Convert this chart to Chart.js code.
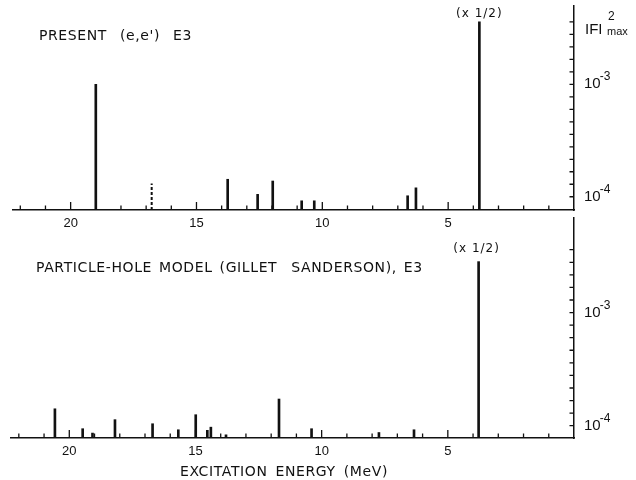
<!DOCTYPE html>
<html><head><meta charset="utf-8">
<script src="https://cdn.jsdelivr.net/npm/chart.js@4.4.0/dist/chart.umd.min.js"></script>
<style>
html,body{margin:0;padding:0;background:#fff;}
#wrap{position:relative;width:636px;height:480px;overflow:hidden;background:#fff;}
canvas{position:absolute;left:0;}
.t{position:absolute;font-family:"DejaVu Sans";font-size:14px;line-height:14px;color:#111;white-space:pre;letter-spacing:0.6px;z-index:3;}
</style></head><body>
<div id="wrap">
<canvas id="c1" width="636" height="232" style="top:0px"></canvas>
<canvas id="c2" width="636" height="266" style="top:214px"></canvas>
<div class="t" style="left:39px;top:28px;word-spacing:8px">PRESENT (e,e') E3</div>
<div class="t" style="left:36px;top:260px;word-spacing:2px">PARTICLE-HOLE MODEL (GILLET  SANDERSON), E3</div>
<div class="t" style="left:180px;top:464px;word-spacing:3px">EXCITATION ENERGY (MeV)</div>
</div>
<script>
// ---- data ----
const presentEnergy = [19.0, 13.76, 12.57, 11.97, 10.82, 10.32, 6.61, 6.28, 3.76];
const presentValue  = [1.0e-3, 1.43e-4, 1.05e-4, 1.38e-4, 9.2e-5, 9.2e-5, 1.02e-4, 1.2e-4, 3.6e-3];
const presentDashedEnergy = [16.78];
const presentDashedValue  = [1.31e-4];
const modelEnergy = [20.57, 19.47, 19.08, 18.19, 16.70, 15.68, 14.99, 14.53, 14.39, 13.79, 11.69, 10.40, 7.73, 6.34, 3.78];
const modelValue  = [1.41e-4, 9.4e-5, 8.6e-5, 1.13e-4, 1.04e-4, 9.2e-5, 1.25e-4, 9.1e-5, 9.7e-5, 8.3e-5, 1.72e-4, 9.4e-5, 8.7e-5, 9.2e-5, 2.82e-3];
const halfNote = '(x 1/2)';
const xMajorTicks = [20, 15, 10, 5];
const xMinorTicks = [1,2,3,4,5,6,7,8,9,10,11,12,13,14,15,16,17,18,19,20,21,22];
const yLabelTicks = [1e-4, 1e-3];
const yTickBase = ['10', '10'];
const yTickExponents = ['-4', '-3'];
const yMinorTicks = [1e-4, 1.292e-4, 1.668e-4, 2.154e-4, 2.783e-4, 3.594e-4, 4.642e-4, 5.995e-4, 7.743e-4,
                     1e-3, 1.292e-3, 1.668e-3, 2.154e-3, 2.783e-3, 3.594e-3];

const INK = '#111';

function makeChart(id, cfg) {
  const bars = cfg.energy.map((e, i) => ({x: e, y: cfg.value[i]}));
  const datasets = [{
    type: 'bar', data: bars, backgroundColor: INK, borderWidth: 0,
    barThickness: 2, grouped: false
  }];
  (cfg.dashedEnergy || []).forEach((e, i) => {
    datasets.push({
      type: 'line', data: [{x: e, y: cfg.yMin}, {x: e, y: cfg.dashedValue[i]}],
      borderColor: INK, borderWidth: 2, borderDash: [3, 2], pointRadius: 0, fill: false
    });
  });
  const bigIndex = cfg.value.indexOf(Math.max(...cfg.value));
  const plugin = {
    id: 'inwardTicks',
    afterDraw(chart) {
      const ctx = chart.ctx, xs = chart.scales.x, ys = chart.scales.y, a = chart.chartArea;
      ctx.save();
      ctx.strokeStyle = INK; ctx.lineWidth = 1.3;
      ctx.beginPath();
      xMinorTicks.forEach(v => {
        const x = xs.getPixelForValue(v);
        const len = xMajorTicks.includes(v) ? 8 : 4.5;
        ctx.moveTo(x, a.bottom); ctx.lineTo(x, a.bottom - len);
      });
      yMinorTicks.forEach(v => {
        const y = ys.getPixelForValue(v);
        ctx.moveTo(a.right, y); ctx.lineTo(a.right - 4.5, y);
      });
      ctx.stroke();
      ctx.fillStyle = INK;
      // exponents of the y tick labels
      ctx.font = '12px "Liberation Sans"';
      ctx.textAlign = 'left'; ctx.textBaseline = 'alphabetic';
      const baseW = (() => { ctx.save(); ctx.font = '15px "Liberation Sans"'; const w = ctx.measureText(yTickBase[0]).width; ctx.restore(); return w; })();
      yLabelTicks.forEach((v, i) => {
        const y = ys.getPixelForValue(v);
        ctx.fillText(yTickExponents[i], a.right + 10 + baseW - 1, y - 4);
      });
      // (x 1/2) note above the strongest line
      const bx = xs.getPixelForValue(cfg.energy[bigIndex]);
      const by = ys.getPixelForValue(cfg.value[bigIndex]);
      ctx.font = '12px "DejaVu Sans"';
      try { ctx.letterSpacing = '1px'; } catch (e) {}
      ctx.textAlign = 'center'; ctx.textBaseline = 'middle';
      ctx.fillText(halfNote, bx + cfg.noteDx, by - cfg.noteDy);
      if (cfg.fmax) {
        try { ctx.letterSpacing = '0px'; } catch (e) {}
        ctx.textAlign = 'left'; ctx.textBaseline = 'alphabetic';
        const yTop = ys.getPixelForValue(yMinorTicks[yMinorTicks.length - 1]);
        ctx.font = '15px "Liberation Sans"';
        ctx.fillText('IFI', a.right + 11, yTop + 12.5);
        ctx.font = '12px "Liberation Sans"';
        ctx.fillText('2', a.right + 34, yTop - 1.5);
        ctx.font = '11px "Liberation Sans"';
        ctx.fillText('max', a.right + 33, yTop + 13);
      }
      ctx.restore();
    }
  };
  return new Chart(document.getElementById(id), {
    type: 'bar',
    data: {datasets},
    plugins: [plugin],
    options: {
      responsive: false, animation: false,
      layout: {padding: {left: cfg.padLeft, top: cfg.padTop, right: 0, bottom: 0}},
      plugins: {legend: {display: false}, tooltip: {enabled: false}},
      scales: {
        x: {
          type: 'linear', reverse: true, min: 0, max: cfg.xMax, bounds: 'data', offset: false,
          grid: {display: false, drawTicks: false},
          border: {display: true, color: INK, width: 1.5},
          afterBuildTicks: s => { s.ticks = xMajorTicks.map(v => ({value: v})); },
          afterFit: s => { s.height = cfg.xHeight; s.paddingLeft = 0; s.paddingRight = 0; },
          ticks: {
            autoSkip: false, maxRotation: 0, padding: 6, color: INK,
            font: {family: 'Liberation Sans', size: 13},
            callback: v => String(v)
          }
        },
        y: {
          type: 'logarithmic', position: 'right', min: cfg.yMin, max: cfg.yMax, bounds: 'data',
          grid: {display: false, drawTicks: false},
          border: {display: true, color: INK, width: 1.5},
          afterBuildTicks: s => { s.ticks = yLabelTicks.map(v => ({value: v})); },
          afterFit: s => { s.width = 62; s.paddingTop = 0; s.paddingBottom = 0; },
          ticks: {
            autoSkip: false, padding: 10, color: INK,
            font: {family: 'Liberation Sans', size: 15},
            callback: (v, i) => yTickBase[i]
          }
        }
      }
    }
  });
}

makeChart('c1', {
  energy: presentEnergy, value: presentValue,
  dashedEnergy: presentDashedEnergy, dashedValue: presentDashedValue,
  yMin: Math.pow(10, -4.118), yMax: Math.pow(10, -2.303), xMax: 22.29,
  padLeft: 13, padTop: 6, xHeight: 22, noteDx: 0, noteDy: 8, fmax: true
});
makeChart('c2', {
  energy: modelEnergy, value: modelValue,
  yMin: Math.pow(10, -4.109), yMax: Math.pow(10, -2.164), xMax: 22.31,
  padLeft: 11, padTop: 4, xHeight: 42, noteDx: -2, noteDy: 12.5, fmax: false
});
</script>
</body></html>
